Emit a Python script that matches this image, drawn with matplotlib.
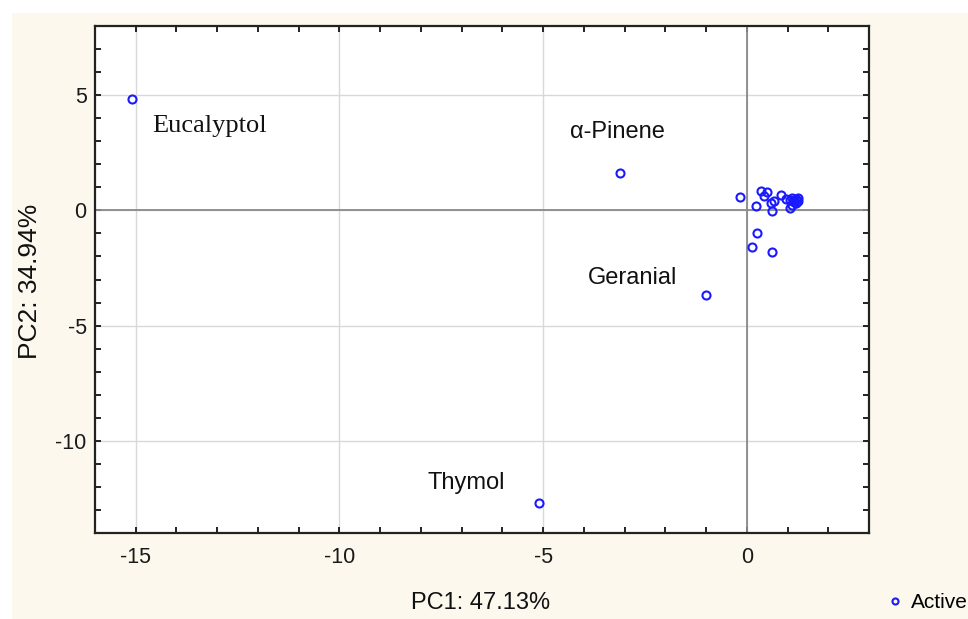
import matplotlib
matplotlib.use("Agg")
import matplotlib.pyplot as plt
from matplotlib.patches import Rectangle
from matplotlib.ticker import MultipleLocator

plt.rcParams["font.family"] = ["Liberation Sans", "DejaVu Sans"]
plt.rcParams["axes.unicode_minus"] = False

# ---------------------------------------------------------
# Data (PCA scores)
# ---------------------------------------------------------
pc1 = [-15.09, -3.12, -1.00, -5.09,
       -0.17, 0.34, 0.50, 0.43, 0.68, 0.83, 0.97, 0.23, 0.62, 1.05,
       0.25, 0.13, 0.61,
       1.10, 1.15, 1.20, 1.25, 1.20, 1.10, 1.25, 1.15, 1.05, 0.60]
pc2 = [4.85, 1.60, -3.68, -12.68,
       0.56, 0.85, 0.79, 0.61, 0.42, 0.65, 0.51, 0.17, -0.04, 0.10,
       -0.98, -1.59, -1.80,
       0.55, 0.45, 0.50, 0.40, 0.30, 0.25, 0.55, 0.35, 0.45, 0.30]

label_names = ["Eucalyptol", "\u03b1-Pinene", "Geranial", "Thymol"]
label_x = [-14.6, -4.33, -3.91, -7.83]
label_y = [3.68, 3.38, -2.94, -11.85]

xlabel = "PC1: 47.13%"
ylabel = "PC2: 34.94%"

# ---------------------------------------------------------
# Figure
# ---------------------------------------------------------
W, H = 968, 619
fig = plt.figure(figsize=(W / 100, H / 100), dpi=100, facecolor="white")
cream = "#fcf8ee"
bg = Rectangle((12 / W, 0), 1 - 12 / W, 1 - 13 / H,
               transform=fig.transFigure, facecolor=cream,
               edgecolor="none", zorder=-10)
fig.add_artist(bg)

ax = fig.add_axes([95 / W, 1 - 533 / H, (869 - 95) / W, (533 - 26) / H])
ax.set_zorder(5)
ax.set_facecolor("white")
ax.set_xlim(-16, 3)
ax.set_ylim(-14, 8)

ax.xaxis.set_major_locator(MultipleLocator(5))
ax.xaxis.set_minor_locator(MultipleLocator(1))
ax.yaxis.set_major_locator(MultipleLocator(5))
ax.yaxis.set_minor_locator(MultipleLocator(1))

ax.grid(True, which="major", color="#d8d8d8", lw=1.0, zorder=1)
ax.axvline(0, color="#8a8a8a", lw=1.3, zorder=2)
ax.axhline(0, color="#8a8a8a", lw=1.3, zorder=2)

for s in ax.spines.values():
    s.set_linewidth(1.6)
    s.set_color("#222222")

ax.tick_params(which="both", direction="in", top=True, right=True,
               length=4, width=1.4, color="#222222")
ax.tick_params(which="major", labelsize=15.5, labelcolor="#1a1a1a")
ax.tick_params(axis="x", which="major", pad=10)
ax.tick_params(axis="y", which="major", pad=6)

sc, = ax.plot(pc1, pc2, linestyle="none", marker="o", markersize=5.8,
              markerfacecolor="none", markeredgecolor="#1a1aff",
              markeredgewidth=1.5, zorder=3, label="Active")

for name, lx, ly in zip(label_names, label_x, label_y):
    if name == "Eucalyptol":
        ax.text(lx, ly, name, family="Liberation Serif", fontsize=19,
                ha="left", va="center", color="#111111")
    else:
        ax.text(lx, ly, name, fontsize=17, ha="left", va="center",
                color="#111111")

fig.text(481 / W, 1 - 603 / H, xlabel, fontsize=17, ha="center",
         va="center", color="#111111")
fig.text(30 / W, 1 - 281 / H, ylabel, fontsize=19, ha="center",
         va="center", rotation=90, color="#111111")

fig.legend(handles=[sc], loc="center left",
           bbox_to_anchor=(887 / W, 1 - 603 / H), frameon=False,
           borderpad=0, borderaxespad=0, handlelength=0.8,
           handletextpad=0.35, markerscale=0.75,
           prop={"size": 15})

fig.savefig("out.png", dpi=100, facecolor=fig.get_facecolor())
